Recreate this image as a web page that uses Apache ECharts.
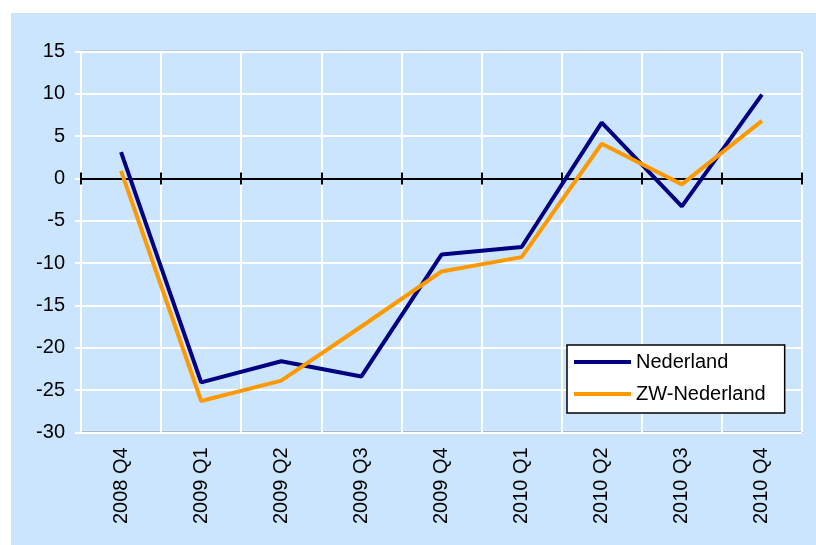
<!DOCTYPE html>
<html>
<head>
<meta charset="utf-8">
<script src="https://cdn.jsdelivr.net/npm/echarts@6/dist/echarts.min.js"></script>
<style>
  html, body { margin: 0; padding: 0; background: #fff; }
  #chart { width: 816px; height: 545px; }
</style>
</head>
<body>
<div id="chart"></div>
<script>
  // kwartalen
  var categories = ['2008 Q4', '2009 Q1', '2009 Q2', '2009 Q3', '2009 Q4', '2010 Q1', '2010 Q2', '2010 Q3', '2010 Q4'];
  var nederland = [3.1, -24.1, -21.6, -23.4, -9.0, -8.1, 6.6, -3.3, 9.9];
  var zwNederland = [0.9, -26.3, -23.9, -17.5, -11.0, -9.3, 4.1, -0.7, 6.8];
  var yTicks = [-30, -25, -20, -15, -10, -5, 0, 5, 10, 15];

  var font = 'Arial, "Liberation Sans", sans-serif';
  var myChart = echarts.init(document.getElementById('chart'));

  var option = {
    animation: false,
    graphic: [{
      type: 'rect',
      z: -10,
      shape: { x: 11, y: 13, width: 805, height: 532 },
      style: { fill: '#CCE5FF' }
    }],
    grid: {
      left: 81, top: 51.5, right: 14, bottom: 112.7,
      show: true,
      borderColor: '#8c8c8c',
      borderWidth: 1.5,
      backgroundColor: 'transparent'
    },
    legend: {
      orient: 'vertical',
      left: 567, top: 345,
      backgroundColor: '#fff',
      borderColor: '#000',
      borderWidth: 1.5,
      padding: [6, 19, 8, 7],
      itemWidth: 57,
      itemHeight: 4,
      itemGap: 10,
      itemTextGap: 4,
      textStyle: { fontFamily: font, fontSize: 20, lineHeight: 22, color: '#000' },
      data: [
        { name: 'Nederland', icon: 'rect' },
        { name: 'ZW-Nederland', icon: 'rect' }
      ]
    },
    xAxis: [{
      // labels onderaan
      type: 'category',
      data: categories,
      boundaryGap: true,
      position: 'bottom',
      axisLine: { onZero: false, show: false },
      axisTick: { show: false },
      axisLabel: { rotate: 90, margin: 15, fontFamily: font, fontSize: 20, color: '#000' },
      splitLine: { show: true, lineStyle: { color: '#fff', width: 2 } }
    }, {
      // nul-lijn met streepjes naar beneden
      type: 'category',
      data: categories,
      position: 'bottom',
      axisLine: { onZero: true, onZeroAxisIndex: 0, lineStyle: { color: '#000', width: 2 } },
      axisTick: { show: true, length: 6, lineStyle: { color: '#000', width: 2 } },
      axisLabel: { show: false },
      splitLine: { show: false }
    }, {
      // streepjes naar boven
      type: 'category',
      data: categories,
      position: 'bottom',
      axisLine: { onZero: true, onZeroAxisIndex: 0, lineStyle: { color: '#000', width: 2 } },
      axisTick: { show: true, inside: true, length: 6, lineStyle: { color: '#000', width: 2 } },
      axisLabel: { show: false },
      splitLine: { show: false }
    }],
    yAxis: {
      type: 'value',
      min: yTicks[0],
      max: yTicks[yTicks.length - 1],
      interval: 5,
      axisLine: { show: true, lineStyle: { color: '#fff', width: 2 } },
      axisTick: { show: true, length: 6, lineStyle: { color: '#fff', width: 2 } },
      axisLabel: { margin: 16, fontFamily: font, fontSize: 20, color: '#000' },
      splitLine: { show: true, lineStyle: { color: '#fff', width: 2 } }
    },
    series: [{
      name: 'Nederland',
      type: 'line',
      xAxisIndex: 0,
      data: nederland,
      showSymbol: false,
      color: '#000080',
      lineStyle: { width: 4, color: '#000080' },
      z: 3
    }, {
      name: 'ZW-Nederland',
      type: 'line',
      xAxisIndex: 0,
      data: zwNederland,
      showSymbol: false,
      color: '#FF9900',
      lineStyle: { width: 4, color: '#FF9900' },
      z: 4
    }]
  };
  myChart.setOption(option);
</script>
</body>
</html>
